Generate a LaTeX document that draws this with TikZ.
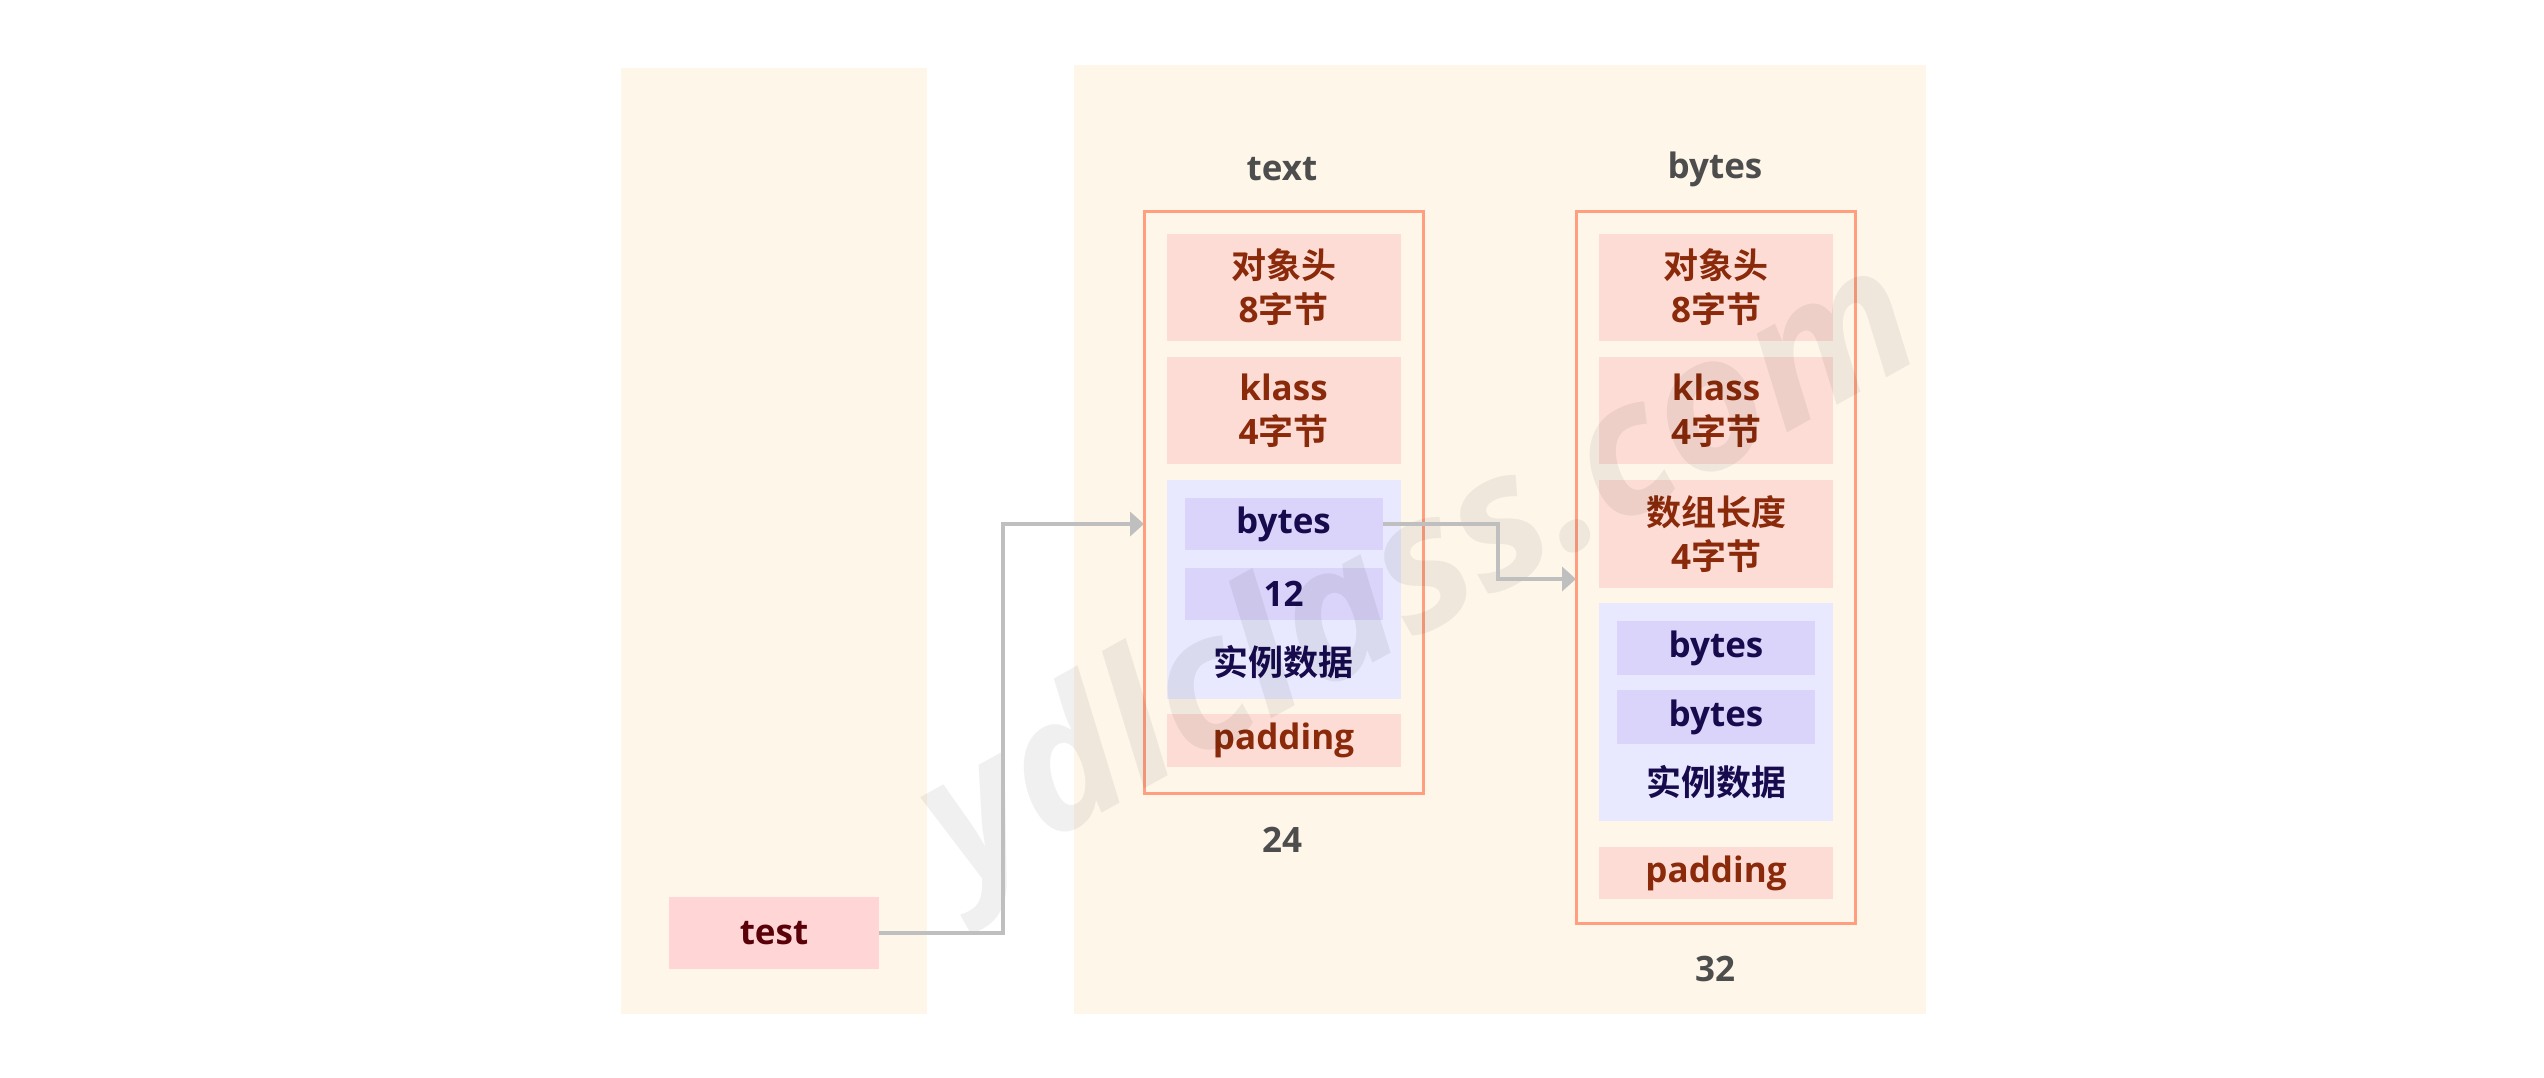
\documentclass[tikz,border=0pt]{standalone}
\usepackage{fontspec}
\setmainfont{Open Sans}
\newfontfamily\cjk{Noto Sans CJK SC}[BoldFont={Noto Sans CJK SC Bold}]
\usetikzlibrary{arrows.meta}
\definecolor{panelbg}{HTML}{FEF6E9}
\definecolor{pinkfill}{HTML}{FCDCD4}
\definecolor{pinktext}{HTML}{8A2A0A}
\definecolor{testfill}{HTML}{FFD5D5}
\definecolor{testtext}{HTML}{5A0008}
\definecolor{bluebg}{HTML}{E8E8FE}
\definecolor{bluefill}{HTML}{DAD3FA}
\definecolor{bluetext}{HTML}{170B4E}
\definecolor{outline}{HTML}{FF9F80}
\definecolor{labeltext}{HTML}{4D4D4D}
\definecolor{arrowgray}{HTML}{BFBFBF}
\begin{document}
\begin{tikzpicture}[x=1pt,y=-1pt,
  every node/.style={inner sep=0pt,outer sep=0pt},
  txt/.style={font=\fontsize{35}{44}\selectfont\bfseries,align=center},
  pinkbox/.style={fill=pinkfill,text=pinktext,txt},
  bluebox/.style={fill=bluefill,text=bluetext,txt},
  lbl/.style={text=labeltext,font=\fontsize{35}{44}\selectfont\bfseries},
  conn/.style={draw=arrowgray,line width=4pt,-{Triangle[length=14pt,width=24pt]}}
]
\useasboundingbox (0,0) rectangle (2544,1077);
\fill[white] (0,0) rectangle (2544,1077);
% panels
\fill[panelbg] (621,68) rectangle (927,1014);
\fill[panelbg] (1074,65) rectangle (1926,1014);
% labels
\node[lbl] (ltext) at (1282,169) {text};
\node[lbl] (lbytes) at (1715,169) {bytes};
\node[lbl] (l24) at (1282,840) {24};
\node[lbl] (l32) at (1715,969) {32};
% text object
\node[draw=outline,line width=3pt,minimum width=279pt,minimum height=582pt] (tobj) at (1283.5,502) {};
\node[pinkbox,minimum width=234pt,minimum height=107pt] (thead) at (1283.5,287) {{\cjk 对象头}\\8{\cjk 字节}};
\node[pinkbox,minimum width=234pt,minimum height=107pt] (tklass) at (1283.5,410.5) {klass\\4{\cjk 字节}};
\node[fill=bluebg,minimum width=234pt,minimum height=219pt] (tinst) at (1283.5,589.5) {};
\node[bluebox,minimum width=198pt,minimum height=52pt] (tbytes) at (1283.5,524) {bytes};
\node[bluebox,minimum width=198pt,minimum height=52pt] (t12) at (1283.5,594) {12};
\node[txt,text=bluetext] (tinstl) at (1283.5,662) {\cjk 实例数据};
\node[pinkbox,minimum width=234pt,minimum height=53pt] (tpad) at (1283.5,740.5) {padding};
% bytes object
\node[draw=outline,line width=3pt,minimum width=279pt,minimum height=712pt] (bobj) at (1715.5,567) {};
\node[pinkbox,minimum width=234pt,minimum height=107pt] (bhead) at (1716,287) {{\cjk 对象头}\\8{\cjk 字节}};
\node[pinkbox,minimum width=234pt,minimum height=107pt] (bklass) at (1716,410.5) {klass\\4{\cjk 字节}};
\node[pinkbox,minimum width=234pt,minimum height=108pt] (blen) at (1716,534) {{\cjk 数组长度}\\4{\cjk 字节}};
\node[fill=bluebg,minimum width=234pt,minimum height=218pt] (binst) at (1716,712) {};
\node[bluebox,minimum width=198pt,minimum height=54pt] (bb1) at (1716,648) {bytes};
\node[bluebox,minimum width=198pt,minimum height=54pt] (bb2) at (1716,717) {bytes};
\node[txt,text=bluetext] (binstl) at (1716,782) {\cjk 实例数据};
\node[pinkbox,minimum width=234pt,minimum height=52pt] (bpad) at (1716,873) {padding};
% test variable
\node[fill=testfill,text=testtext,txt,minimum width=210pt,minimum height=72pt] (test) at (774,933) {test};
% watermark
\node[rotate=29,text=black,text opacity=0.06,font=\fontsize{185}{185}\selectfont\bfseries\itshape] (wm) at (1423,580) {ydlclass.com};
% connectors
\coordinate (c1) at (1003,933);
\coordinate (c2) at (1003,524);
\draw[conn] (test.east) -- (c1) -- (c2) -- (c2 -| tobj.west);
\coordinate (c3) at (1498,524);
\coordinate (c4) at (1498,579);
\draw[conn] (tbytes.east) -- (c3) -- (c4) -- (c4 -| bobj.west);
\end{tikzpicture}
\end{document}
